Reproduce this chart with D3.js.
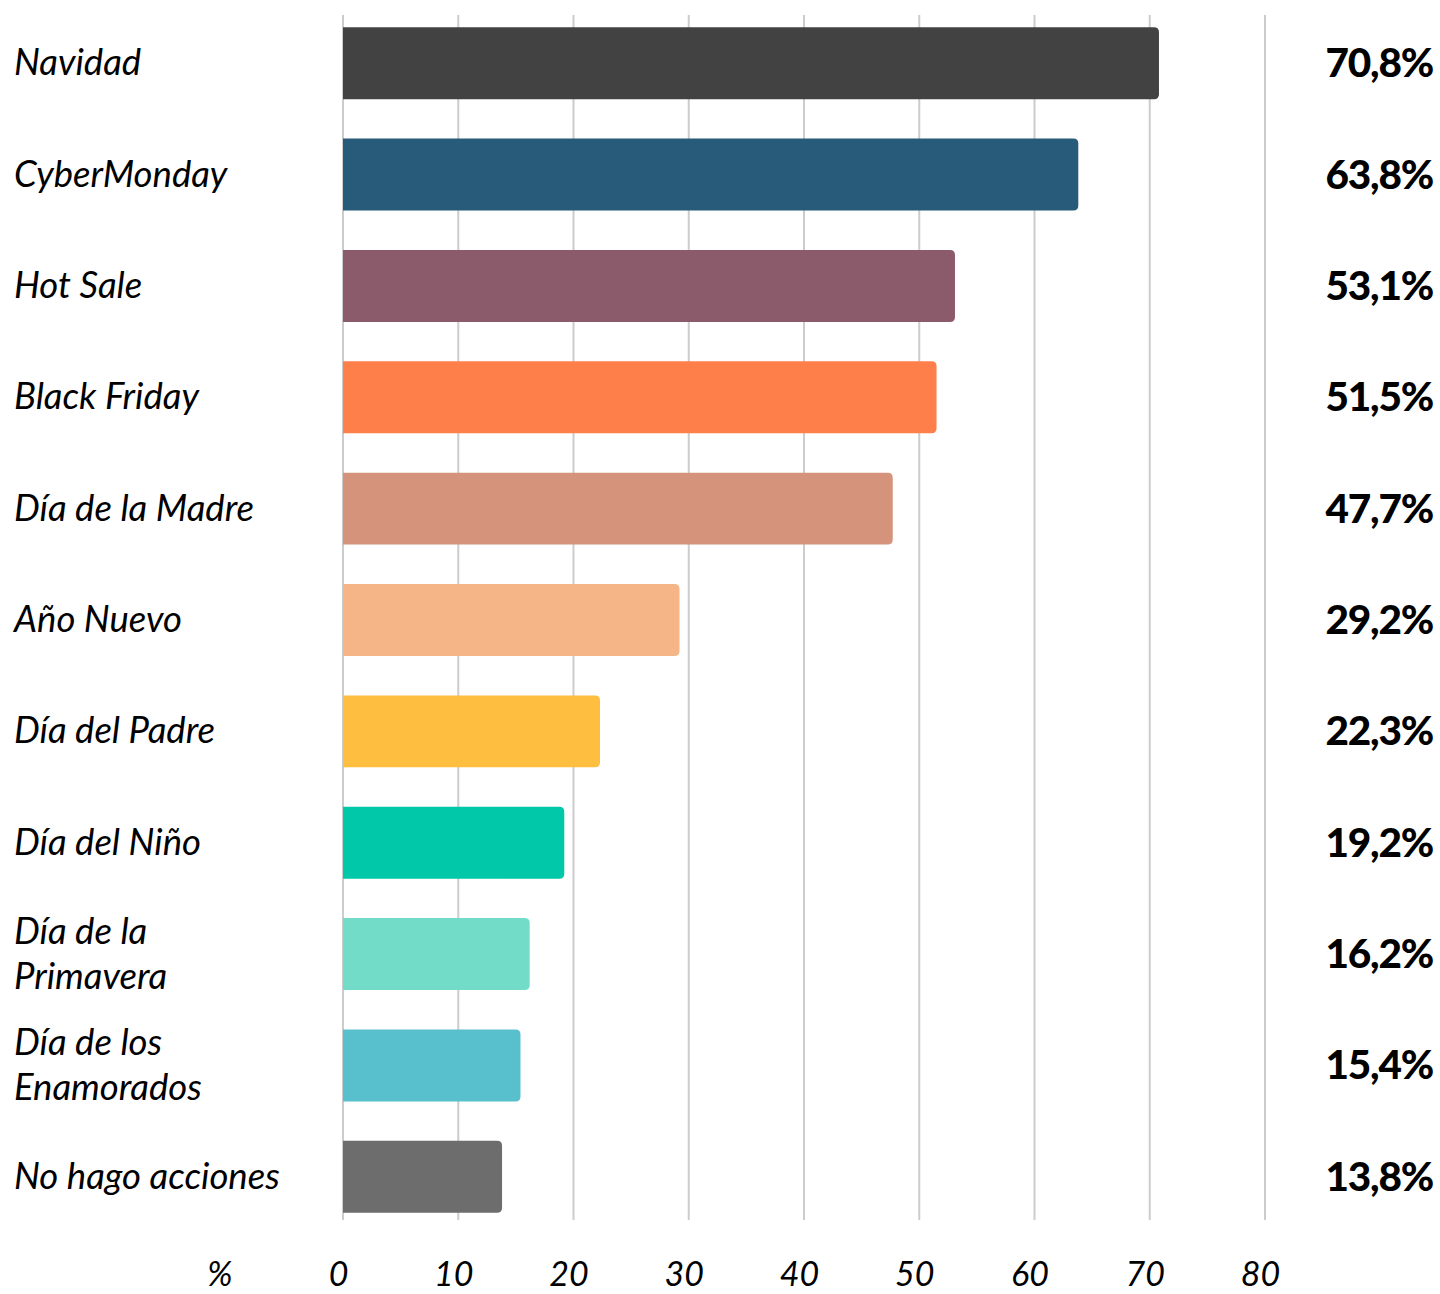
<!DOCTYPE html>
<html>
<head>
<meta charset="utf-8">
<script src="https://cdn.jsdelivr.net/npm/d3@7"></script>
<style>
  body { margin: 0; background: #fff; }
  svg text { font-family: Lato, "Open Sans", sans-serif; fill: #000; }
</style>
</head>
<body>
<svg id="chart" width="1440" height="1294"></svg>
<script>
// data
const categories = [
  ["Navidad"], ["CyberMonday"], ["Hot Sale"], ["Black Friday"], ["Día de la Madre"],
  ["Año Nuevo"], ["Día del Padre"], ["Día del Niño"], ["Día de la", "Primavera"],
  ["Día de los", "Enamorados"], ["No hago acciones"]
];
const values = [70.8, 63.8, 53.1, 51.5, 47.7, 29.2, 22.3, 19.2, 16.2, 15.4, 13.8];
const valueLabels = ["70,8%", "63,8%", "53,1%", "51,5%", "47,7%", "29,2%", "22,3%", "19,2%", "16,2%", "15,4%", "13,8%"];
const colors = ["#424242", "#285a7a", "#8b5a6b", "#ff7f4a", "#d4937a", "#f5b586",
                "#febe3f", "#00c8a8", "#72dcc8", "#58bfcc", "#6d6d6d"];
const xTicks = [0, 10, 20, 30, 40, 50, 60, 70, 80];

const svg = d3.select("#chart");
const ids = d3.range(values.length);

const x = d3.scaleLinear().domain([0, 80]).range([343, 1265]);
const y = d3.scaleBand().domain(ids).range([7.5, 1232.5]).paddingInner(0.354).paddingOuter(0.177);

// gridlines
svg.append("g")
  .selectAll("line")
  .data(xTicks)
  .join("line")
    .attr("x1", d => x(d)).attr("x2", d => x(d))
    .attr("y1", 15).attr("y2", 1220)
    .attr("stroke", "#cccccc")
    .attr("stroke-width", 2);

// bars: square left end, rounded right end
const r = 5;
svg.append("g")
  .selectAll("path")
  .data(ids)
  .join("path")
    .attr("d", i => {
      const x0 = x(0), x1 = x(values[i]), y0 = y(i), h = y.bandwidth();
      return `M${x0},${y0}H${x1 - r}Q${x1},${y0} ${x1},${y0 + r}V${y0 + h - r}Q${x1},${y0 + h} ${x1 - r},${y0 + h}H${x0}Z`;
    })
    .attr("fill", i => colors[i]);

// category labels
const lab = svg.append("g")
  .selectAll("text")
  .data(ids)
  .join("text")
    .attr("x", 14)
    .attr("font-size", 36.5)
    .attr("font-style", "italic");
lab.each(function(i) {
  const lines = categories[i];
  const cy = y(i) + y.bandwidth() / 2;
  const lh = 45;
  d3.select(this).selectAll("tspan")
    .data(lines)
    .join("tspan")
      .attr("x", 14)
      .attr("y", (d, k) => cy + 12 + (k - (lines.length - 1) / 2) * lh)
      .text(d => d);
});

// value labels
svg.append("g")
  .selectAll("text")
  .data(ids)
  .join("text")
    .attr("x", 1433)
    .attr("y", i => y(i) + y.bandwidth() / 2 + 14)
    .attr("text-anchor", "end")
    .attr("font-size", 40.5)
    .attr("font-weight", 900)
    .attr("letter-spacing", -1.2)
    .text(i => valueLabels[i]);

// x axis labels
const axis = d3.axisBottom(x).tickValues(xTicks).tickSize(0).tickPadding(0);
const ax = svg.append("g").attr("transform", "translate(0,1286)").call(axis);
ax.select(".domain").remove();
ax.selectAll("text")
  .attr("dy", 0)
  .attr("dx", -5)
  .attr("font-size", 34)
  .attr("font-style", "italic")
  .attr("font-family", "Lato, sans-serif")
  .attr("fill", "#000");

svg.append("text")
  .attr("x", 220).attr("y", 1286)
  .attr("text-anchor", "middle")
  .attr("font-size", 34)
  .attr("font-style", "italic")
  .text("%");
</script>
</body>
</html>
